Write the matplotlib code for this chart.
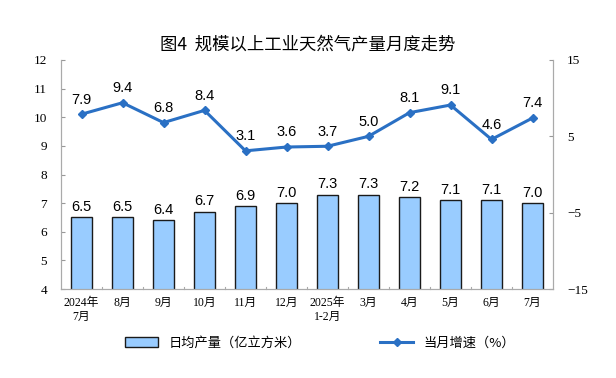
import matplotlib.pyplot as plt
import numpy as np

plt.rcParams['font.family'] = ['Liberation Serif', 'Noto Sans CJK SC']

months = ['2024年\n7月', '8月', '9月', '10月', '11月', '12月', '2025年\n1-2月',
          '3月', '4月', '5月', '6月', '7月']
daily_output = [6.5, 6.5, 6.4, 6.7, 6.9, 7.0, 7.3, 7.3, 7.2, 7.1, 7.1, 7.0]
growth = [7.9, 9.4, 6.8, 8.4, 3.1, 3.6, 3.7, 5.0, 8.1, 9.1, 4.6, 7.4]

x = np.arange(len(months))

fig = plt.figure(figsize=(6.16, 3.78), dpi=100)
ax = fig.add_axes([61 / 616, 1 - 289 / 378, (553 - 61) / 616, (289 - 60) / 378])
ax2 = ax.twinx()

bars = ax.bar(x, daily_output, width=0.5, color='#99ccff', edgecolor='#1a1a1a',
              linewidth=1.0, label='日均产量（亿立方米）', zorder=2)
for xi, v in zip(x, daily_output):
    ax.text(xi, v + 0.12, f'{v:.1f}', ha='center', va='bottom', fontsize=10.5,
            family=['Liberation Sans'])

line, = ax2.plot(x, growth, color='#2a70c4', linewidth=2.2, marker='D',
                 markersize=4.5, label='当月增速（%）', zorder=3)
for xi, v in zip(x, growth):
    ax2.text(xi, v + 1.0, f'{v:.1f}', ha='center', va='bottom', fontsize=10.5,
             family=['Liberation Sans'])

ax.set_xlim(-0.5, len(months) - 0.5)
ax.set_ylim(4, 12)
ax.set_yticks(range(4, 13))
ax2.set_ylim(-15, 15)
ax2.set_yticks([-15, -5, 5, 15])

ax.set_xticks(x)
ax.set_xticklabels(months, fontsize=8.5)
ax.tick_params(axis='x', length=0, pad=6)
ax.tick_params(axis='y', direction='in', length=3, labelsize=9.5, color='#999999', pad=10)
ax2.tick_params(axis='y', direction='in', length=3, labelsize=9.5, color='#999999', pad=10)

for a in (ax, ax2):
    a.spines['top'].set_visible(False)
    for s in ('left', 'right', 'bottom'):
        a.spines[s].set_color('#aaaaaa')

# small category separators on the x axis
for b in np.arange(0.5, len(months) - 0.5, 1):
    ax.plot([b, b], [4, 4.06], color='#aaaaaa', linewidth=0.8, clip_on=False)

fig.text(0.5, 1 - 45 / 378, '图4  规模以上工业天然气产量月度走势', ha='center', va='center',
         fontsize=12.5, family=['Noto Sans CJK SC'])

fig.legend(handles=[bars, line], loc='center', bbox_to_anchor=(0.52, 1 - 343 / 378),
           ncol=2, frameon=False, fontsize=9.5, columnspacing=6, handlelength=2.5,
           prop={'family': ['Noto Sans CJK SC'], 'size': 9.5})

fig.savefig('out.png', dpi=100)
